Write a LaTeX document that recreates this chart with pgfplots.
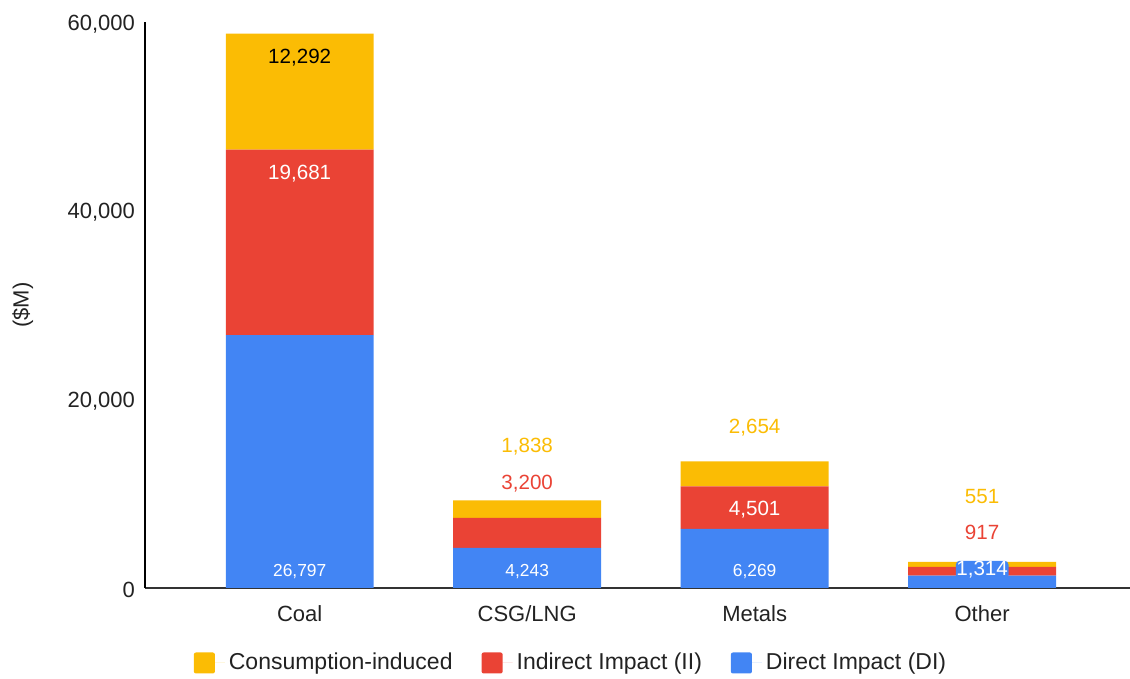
\documentclass[border=0pt]{standalone}
\usepackage{pgfplots}
\pgfplotsset{compat=1.18}
\usepackage{fontspec}
\setmainfont{Liberation Sans}
\definecolor{cblue}{HTML}{4285F4}
\definecolor{cred}{HTML}{EA4335}
\definecolor{cyel}{HTML}{FBBC04}
\definecolor{axgray}{HTML}{333333}
\definecolor{txt}{HTML}{222222}

\begin{document}
\begin{tikzpicture}
\pgfplotsset{common/.style={width=492.5pt,height=283pt,scale only axis,
  xmin=-0.68,xmax=3.65,ymin=0,ymax=60000}}
\begin{axis}[common, name=ax,
  ybar stacked, bar width=0.65,
  axis lines*=left,
  x axis line style={draw=axgray, line width=0.8pt},
  y axis line style={draw=black, line width=0.8pt},
  major tick length=0pt,
  xtick={0,1,2,3}, xticklabels={Coal,CSG/LNG,Metals,Other},
  ytick={0,20000,40000,60000},
  scaled y ticks=false,
  ticklabel style={font=\fontsize{11}{13}\selectfont, text=txt},
  xticklabel style={yshift=-5pt},
  yticklabel style={xshift=-1.5pt, yshift=-1pt},
  y tick label style={/pgf/number format/.cd, fixed, 1000 sep={,}, assume math mode=true},
  ylabel={(\$M)},
  ylabel style={at={(axis description cs:-0.124,0.5)}, anchor=center, font=\fontsize{11}{13}\selectfont, text=txt},
  legend columns=3,
  reverse legend,
  legend style={at={(0.4335,-0.1325)}, anchor=center, draw=none, fill=none,
    font=\fontsize{11.5}{13}\selectfont, text=txt,
    /tikz/every even column/.append style={column sep=12.5pt}},
  legend cell align=left,
]
\addplot[fill=cblue, draw=none, legend image code/.code={\fill[cblue, rounded corners=1pt] (0pt,-5.25pt) rectangle (10.5pt,5.25pt); \path (10.5pt,0pt) -- (15.5pt,0pt);}]
  coordinates {(0,26797) (1,4243) (2,6269) (3,1314)};
\addlegendentry{Direct Impact (DI)}
\addplot[fill=cred, draw=none, legend image code/.code={\fill[cred, rounded corners=1pt] (0pt,-5.25pt) rectangle (10.5pt,5.25pt); \path (10.5pt,0pt) -- (15.5pt,0pt);}]
  coordinates {(0,19681) (1,3200) (2,4501) (3,917)};
\addlegendentry{Indirect Impact (II)}
\addplot[fill=cyel, draw=none, legend image code/.code={\fill[cyel, rounded corners=1pt] (0pt,-5.25pt) rectangle (10.5pt,5.25pt); \path (10.5pt,0pt) -- (15.5pt,0pt);}]
  coordinates {(0,12292) (1,1838) (2,2654) (3,551)};
\addlegendentry{Consumption-induced}
\end{axis}

\begin{axis}[common, hide axis, point meta=explicit symbolic,
  nodes near coords, nodes near coords style={anchor=center, font=\fontsize{10.3}{12}\selectfont}]
\addplot[only marks, mark=none, nodes near coords style={text=black}] table[meta=lab] {
x y lab
0 56200 12,292
};
\addplot[only marks, mark=none, nodes near coords style={text=white}] table[meta=lab] {
x y lab
0 43900 19,681
2 8280 4,501
};
\addplot[only marks, mark=none, nodes near coords style={text=white, font=\fontsize{8.7}{10}\selectfont}] table[meta=lab] {
x y lab
0 1710 26,797
1 1710 4,243
2 1710 6,269
};
\addplot[only marks, mark=none, nodes near coords style={text=cred}] table[meta=lab] {
x y lab
1 11040 3,200
3 5840 917
};
\addplot[only marks, mark=none, nodes near coords style={text=cyel}] table[meta=lab] {
x y lab
1 14960 1,838
2 16970 2,654
3 9660 551
};
\addplot[only marks, mark=none, nodes near coords style={text=white, fill=cblue, rounded corners=2pt, inner sep=0.3pt}] table[meta=lab] {
x y lab
3 1920 1,314
};
\end{axis}
\pgfresetboundingbox
\path[use as bounding box] (ax.south west) ++(-72.5pt,-45.5pt) rectangle ++(565pt,339.5pt);
\end{tikzpicture}
\end{document}
